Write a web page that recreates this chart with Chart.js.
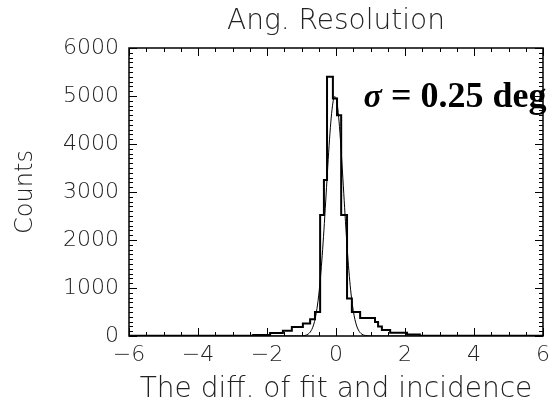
<!DOCTYPE html>
<html>
<head>
<meta charset="utf-8">
<script src="https://cdn.jsdelivr.net/npm/chart.js@4"></script>
<style>
html, body { margin: 0; padding: 0; background: #fff; }
</style>
</head>
<body>
<canvas id="chart" width="556" height="408"></canvas>
<script>
// histogram: bin edges (deg) and counts per bin
const binEdges = [-6.0, -2.4, -1.91, -1.54, -1.28, -0.96, -0.75, -0.61, -0.46, -0.35, -0.26, -0.09,
                  0.03, 0.15, 0.32, 0.46, 0.70, 1.13, 1.22, 1.33, 1.57, 2.06, 2.43, 6.0];
const binCounts = [5, 20, 60, 110, 190, 260, 350, 500, 2520, 3250, 5400,
                   4950, 4600, 2520, 780, 500, 375, 290, 200, 125, 70, 30, 5];

// gaussian fit curve
const fitX = [-6.0, -1.0, -0.9, -0.85, -0.8, -0.75, -0.7, -0.65, -0.6, -0.55, -0.5, -0.45, -0.4, -0.35,
              -0.3, -0.25, -0.2, -0.15, -0.1, -0.05, 0.0, 0.05, 0.1, 0.15, 0.2, 0.25, 0.3,
              0.35, 0.4, 0.45, 0.5, 0.55, 0.6, 0.65, 0.7, 0.75, 0.8, 0.85, 0.9, 1.0, 6.0];
const fitY = [0, 0, 12, 23, 44, 79, 138, 230, 371, 577, 853, 1220, 1672, 2204,
              2791, 3395, 3969, 4456, 4808, 4984, 4964, 4750, 4368, 3859, 3275, 2670, 2092,
              1575, 1139, 792, 528, 339, 209, 124, 70, 38, 20, 10, 5, 0, 0];

const xTicks = [-6, -4, -2, 0, 2, 4, 6];
const yTicks = [0, 1000, 2000, 3000, 4000, 5000, 6000];

const titleText = 'Ang. Resolution';
const xTitle = 'The diff. of fit and incidence';
const yTitle = 'Counts';
const noteSigma = '\u03c3';
const noteRest = ' = 0.25 deg';

// step points: left edge of every bin, plus the last right edge
const histPoints = binEdges.map((e, i) => ({ x: e, y: binCounts[Math.min(i, binCounts.length - 1)] }));
const fitPoints = fitX.map((v, i) => ({ x: v, y: fitY[i] }));

const labelFont = { family: 'DejaVu Sans', size: 22, weight: '200' };
const ink = '#222';

const framePlugin = {
    id: 'frame',
    afterDatasetsDraw(chart) {
        const { ctx, chartArea: a, scales: { x, y } } = chart;
        ctx.save();
        ctx.strokeStyle = '#000';
        ctx.lineWidth = 1.5;
        ctx.strokeRect(a.left, a.top, a.right - a.left, a.bottom - a.top);

        // inward ticks, IDL style
        ctx.lineWidth = 1;
        ctx.beginPath();
        for (let v = -6; v <= 6.001; v += 0.5) {
            const px = Math.round(x.getPixelForValue(v)) + 0.5;
            const len = Math.abs(v % 2) < 0.01 ? 8 : 4;
            ctx.moveTo(px, a.bottom); ctx.lineTo(px, a.bottom - len);
            ctx.moveTo(px, a.top); ctx.lineTo(px, a.top + len);
        }
        for (let v = 0; v <= 6000; v += 100) {
            const py = Math.round(y.getPixelForValue(v)) + 0.5;
            const len = v % 1000 === 0 ? 8 : 4;
            ctx.moveTo(a.left, py); ctx.lineTo(a.left + len, py);
            ctx.moveTo(a.right, py); ctx.lineTo(a.right - len, py);
        }
        ctx.stroke();

        // title, centred over the plot box
        ctx.fillStyle = ink;
        ctx.font = '200 28px "DejaVu Sans"';
        ctx.textAlign = 'center';
        ctx.textBaseline = 'middle';
        ctx.fillText(titleText, (a.left + a.right) / 2, 22);

        // sigma annotation
        const nx = x.getPixelForValue(0.8);
        const ny = y.getPixelForValue(4770);
        ctx.fillStyle = '#000';
        ctx.textAlign = 'left';
        ctx.textBaseline = 'alphabetic';
        ctx.font = 'italic bold 34px "Liberation Serif"';
        ctx.fillText(noteSigma, nx, ny);
        const w = ctx.measureText(noteSigma).width;
        ctx.font = 'bold 36px "Liberation Serif"';
        ctx.fillText(noteRest, nx + w, ny);
        ctx.restore();
    }
};

const ctx = document.getElementById('chart');
new Chart(ctx, {
    type: 'line',
    data: {
        datasets: [
            {
                label: 'Histogram',
                data: histPoints,
                stepped: 'before',
                borderColor: '#000',
                borderWidth: 2,
                pointRadius: 0,
                fill: false
            },
            {
                label: 'Gaussian fit',
                data: fitPoints,
                borderColor: '#000',
                borderWidth: 1,
                pointRadius: 0,
                tension: 0.3,
                fill: false
            }
        ]
    },
    options: {
        responsive: false,
        animation: false,
        devicePixelRatio: 1,
        layout: { padding: { left: 0, right: 13, top: 48, bottom: 0 } },
        plugins: {
            legend: { display: false },
            tooltip: { enabled: false },
            title: { display: false }
        },
        scales: {
            x: {
                type: 'linear',
                min: -6,
                max: 6,
                afterBuildTicks: s => { s.ticks = xTicks.map(v => ({ value: v })); },
                afterFit: s => { s.height = 72; },
                grid: { display: false, drawTicks: false },
                border: { display: false },
                ticks: {
                    color: ink,
                    font: labelFont,
                    padding: 6,
                    maxRotation: 0,
                    callback: v => (v < 0 ? '\u2212' + Math.abs(v) : String(v))
                },
                title: {
                    display: true,
                    text: xTitle,
                    color: ink,
                    font: { family: 'DejaVu Sans', size: 28, weight: '200' },
                    padding: { top: 0, bottom: 1 }
                }
            },
            y: {
                min: 0,
                max: 6000,
                afterBuildTicks: s => { s.ticks = yTicks.map(v => ({ value: v })); },
                afterFit: s => { s.width = 129; },
                grid: { display: false, drawTicks: false },
                border: { display: false },
                ticks: {
                    color: ink,
                    font: labelFont,
                    padding: 10,
                    callback: v => String(v)
                },
                title: {
                    display: true,
                    text: yTitle,
                    color: ink,
                    font: { family: 'DejaVu Sans', size: 24, weight: '200' },
                    padding: { top: 11, bottom: 0 }
                }
            }
        }
    },
    plugins: [framePlugin]
});
</script>
</body>
</html>
